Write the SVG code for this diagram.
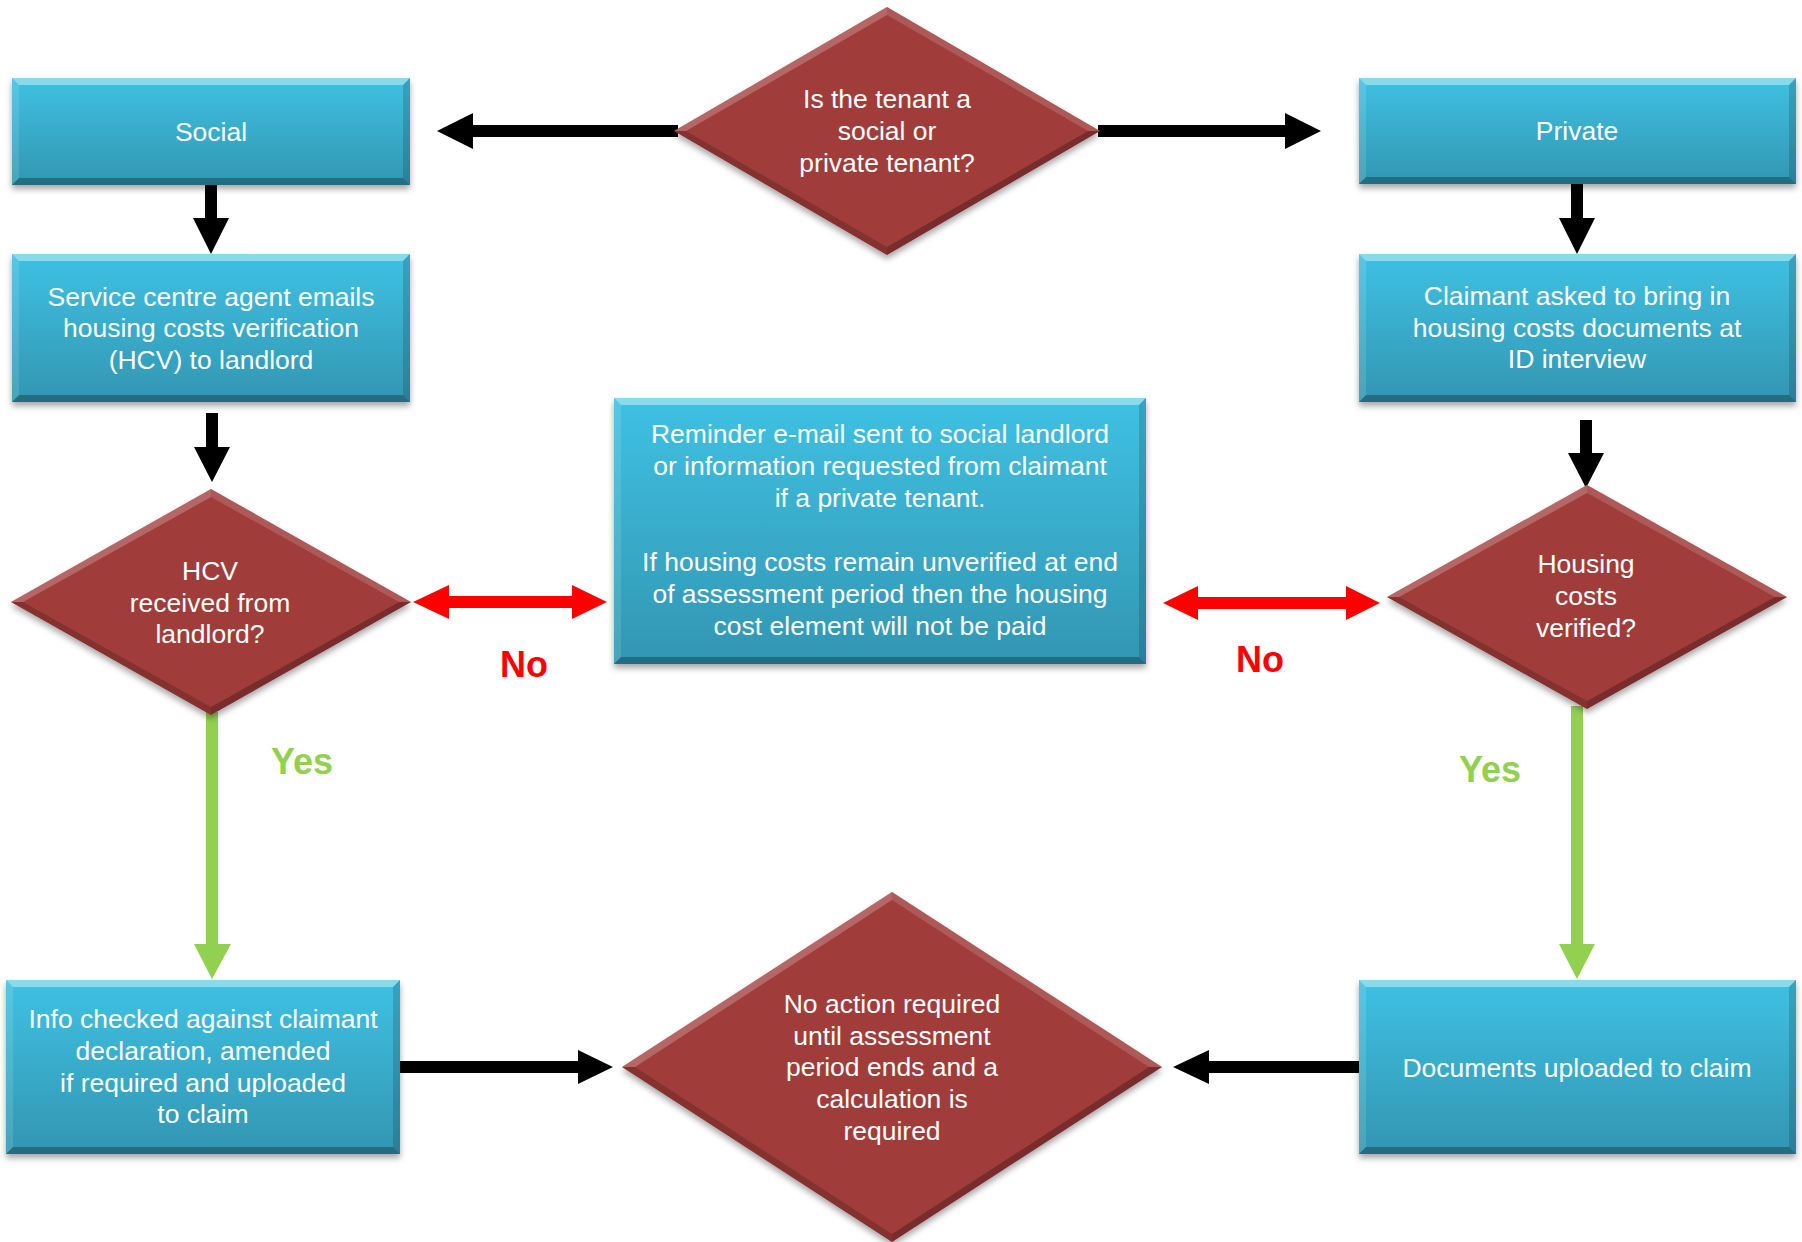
<svg xmlns="http://www.w3.org/2000/svg" width="1802" height="1242" viewBox="0 0 1802 1242">
<defs>
<linearGradient id="boxg" x1="0" y1="0" x2="0" y2="1">
<stop offset="0" stop-color="#3FC1E3"/>
<stop offset="1" stop-color="#3296B2"/>
</linearGradient>
<filter id="sh" x="-5%" y="-5%" width="110%" height="115%">
<feDropShadow dx="0" dy="4" stdDeviation="3" flood-color="#000" flood-opacity="0.35"/>
</filter>
<style>
.body{fill:url(#boxg)}
.bt{fill:#ffffff;fill-opacity:0.4}
.bl{fill:#ffffff;fill-opacity:0.12}
.br{fill:#000000;fill-opacity:0.15}
.bb{fill:#000000;fill-opacity:0.28}
.dia{fill:#A03C3A}
.dtl{fill:#ffffff;fill-opacity:0.22}
.dtr{fill:#ffffff;fill-opacity:0.15}
.dbr{fill:#000000;fill-opacity:0.25}
.dbl{fill:#000000;fill-opacity:0.18}
.t{font-family:"Liberation Sans",Arial,sans-serif;font-size:26.5px;fill:#ffffff;text-anchor:middle}
.blk{fill:#000000}
.red{fill:#FF0000}
.grn{fill:#92D050}
.no{font-family:"Liberation Sans",Arial,sans-serif;font-size:36px;font-weight:bold;fill:#FF0000;text-anchor:middle}
.yes{font-family:"Liberation Sans",Arial,sans-serif;font-size:36px;font-weight:bold;fill:#92D050;text-anchor:middle}
</style>
</defs>
<rect width="1802" height="1242" fill="#ffffff"/>

<g id="connectors">
<polygon class="blk" points="678,125 473,125 473,113 437,131 473,149 473,137 678,137"/>
<polygon class="blk" points="1098,125 1285,125 1285,113 1321,131 1285,149 1285,137 1098,137"/>
<polygon class="blk" points="205,185 217,185 217,218 229,218 211,254 193,218 205,218"/>
<polygon class="blk" points="1571,184 1583,184 1583,218 1595,218 1577,254 1559,218 1571,218"/>
<polygon class="blk" points="206,413 218,413 218,447 230,447 212,482 194,447 206,447"/>
<polygon class="blk" points="1580,420 1592,420 1592,453 1604,453 1586,488 1568,453 1580,453"/>
<polygon class="red" points="413,602 449,585 449,596 572,596 572,585 607,602 572,619 572,608 449,608 449,619"/>
<polygon class="red" points="1163,603 1198,586 1198,597 1346,597 1346,586 1380,603 1346,620 1346,609 1198,609 1198,620"/>
<polygon class="grn" points="206,712 218,712 218,944 231,944 212,979 194,944 206,944"/>
<polygon class="grn" points="1571,706 1583,706 1583,944 1595,944 1577,979 1559,944 1571,944"/>
<polygon class="blk" points="400,1061 578,1061 578,1050 613,1067 578,1084 578,1073 400,1073"/>
<polygon class="blk" points="1359,1061 1209,1061 1209,1050 1173,1067 1209,1084 1209,1073 1359,1073"/>
<text class="no" x="524" y="677">No</text>
<text class="no" x="1260" y="672">No</text>
<text class="yes" x="302" y="774">Yes</text>
<text class="yes" x="1490" y="782">Yes</text>
</g>

<g id="q-tenant">
<polygon class="dia" filter="url(#sh)" points="674,131 887,7 1100,131 887,255"/>
<polygon class="dtl" points="674,131 887,7 887,15 686,131"/>
<polygon class="dtr" points="887,7 1100,131 1088,131 887,15"/>
<polygon class="dbr" points="1100,131 887,255 887,247 1088,131"/>
<polygon class="dbl" points="887,255 674,131 686,131 887,247"/>
<text class="t" x="887" y="108">Is the tenant a</text>
<text class="t" x="887" y="140">social or</text>
<text class="t" x="887" y="172">private tenant?</text>
</g>

<g id="social">
<rect class="body" filter="url(#sh)" x="12" y="78" width="398" height="107"/>
<polygon class="bt" points="12,78 410,78 403,85 19,85"/>
<polygon class="bl" points="12,78 19,85 19,178 12,185"/>
<polygon class="br" points="410,78 410,185 403,178 403,85"/>
<polygon class="bb" points="12,185 19,178 403,178 410,185"/>
<text class="t" x="211" y="141">Social</text>
</g>

<g id="private">
<rect class="body" filter="url(#sh)" x="1359" y="78" width="437" height="106"/>
<polygon class="bt" points="1359,78 1796,78 1789,85 1366,85"/>
<polygon class="bl" points="1359,78 1366,85 1366,177 1359,184"/>
<polygon class="br" points="1796,78 1796,184 1789,177 1789,85"/>
<polygon class="bb" points="1359,184 1366,177 1789,177 1796,184"/>
<text class="t" x="1577" y="140">Private</text>
</g>

<g id="service-agent">
<rect class="body" filter="url(#sh)" x="12" y="254" width="398" height="148"/>
<polygon class="bt" points="12,254 410,254 403,261 19,261"/>
<polygon class="bl" points="12,254 19,261 19,395 12,402"/>
<polygon class="br" points="410,254 410,402 403,395 403,261"/>
<polygon class="bb" points="12,402 19,395 403,395 410,402"/>
<text class="t" x="211" y="306">Service centre agent emails</text>
<text class="t" x="211" y="337">housing costs verification</text>
<text class="t" x="211" y="369">(HCV) to landlord</text>
</g>

<g id="claimant-docs">
<rect class="body" filter="url(#sh)" x="1359" y="254" width="437" height="148"/>
<polygon class="bt" points="1359,254 1796,254 1789,261 1366,261"/>
<polygon class="bl" points="1359,254 1366,261 1366,395 1359,402"/>
<polygon class="br" points="1796,254 1796,402 1789,395 1789,261"/>
<polygon class="bb" points="1359,402 1366,395 1789,395 1796,402"/>
<text class="t" x="1577" y="305">Claimant asked to bring in</text>
<text class="t" x="1577" y="337">housing costs documents at</text>
<text class="t" x="1577" y="368">ID interview</text>
</g>

<g id="reminder">
<rect class="body" filter="url(#sh)" x="614" y="398" width="532" height="266"/>
<polygon class="bt" points="614,398 1146,398 1139,405 621,405"/>
<polygon class="bl" points="614,398 621,405 621,657 614,664"/>
<polygon class="br" points="1146,398 1146,664 1139,657 1139,405"/>
<polygon class="bb" points="614,664 621,657 1139,657 1146,664"/>
<text class="t" x="880" y="443">Reminder e-mail sent to social landlord</text>
<text class="t" x="880" y="475">or information requested from claimant</text>
<text class="t" x="880" y="507">if a private tenant.</text>
<text class="t" x="880" y="571">If housing costs remain unverified at end</text>
<text class="t" x="880" y="603">of assessment period then the housing</text>
<text class="t" x="880" y="635">cost element will not be paid</text>
</g>

<g id="q-hcv">
<polygon class="dia" filter="url(#sh)" points="11,602 211,489 411,602 211,715"/>
<polygon class="dtl" points="11,602 211,489 211,497 23,602"/>
<polygon class="dtr" points="211,489 411,602 399,602 211,497"/>
<polygon class="dbr" points="411,602 211,715 211,707 399,602"/>
<polygon class="dbl" points="211,715 11,602 23,602 211,707"/>
<text class="t" x="210" y="580">HCV</text>
<text class="t" x="210" y="612">received from</text>
<text class="t" x="210" y="643">landlord?</text>
</g>

<g id="q-verified">
<polygon class="dia" filter="url(#sh)" points="1387,597 1587,485 1787,597 1587,709"/>
<polygon class="dtl" points="1387,597 1587,485 1587,493 1399,597"/>
<polygon class="dtr" points="1587,485 1787,597 1775,597 1587,493"/>
<polygon class="dbr" points="1787,597 1587,709 1587,701 1775,597"/>
<polygon class="dbl" points="1587,709 1387,597 1399,597 1587,701"/>
<text class="t" x="1586" y="573">Housing</text>
<text class="t" x="1586" y="605">costs</text>
<text class="t" x="1586" y="637">verified?</text>
</g>

<g id="info-checked">
<rect class="body" filter="url(#sh)" x="6" y="980" width="394" height="174"/>
<polygon class="bt" points="6,980 400,980 393,987 13,987"/>
<polygon class="bl" points="6,980 13,987 13,1147 6,1154"/>
<polygon class="br" points="400,980 400,1154 393,1147 393,987"/>
<polygon class="bb" points="6,1154 13,1147 393,1147 400,1154"/>
<text class="t" x="203" y="1028">Info checked against claimant</text>
<text class="t" x="203" y="1060">declaration, amended</text>
<text class="t" x="203" y="1092">if required and uploaded</text>
<text class="t" x="203" y="1123">to claim</text>
</g>

<g id="documents-uploaded">
<rect class="body" filter="url(#sh)" x="1359" y="980" width="437" height="174"/>
<polygon class="bt" points="1359,980 1796,980 1789,987 1366,987"/>
<polygon class="bl" points="1359,980 1366,987 1366,1147 1359,1154"/>
<polygon class="br" points="1796,980 1796,1154 1789,1147 1789,987"/>
<polygon class="bb" points="1359,1154 1366,1147 1789,1147 1796,1154"/>
<text class="t" x="1577" y="1077">Documents uploaded to claim</text>
</g>

<g id="no-action">
<polygon class="dia" filter="url(#sh)" points="622,1067 892,892 1162,1067 892,1242"/>
<polygon class="dtl" points="622,1067 892,892 892,900 635,1067"/>
<polygon class="dtr" points="892,892 1162,1067 1149,1067 892,900"/>
<polygon class="dbr" points="1162,1067 892,1242 892,1234 1149,1067"/>
<polygon class="dbl" points="892,1242 622,1067 635,1067 892,1234"/>
<text class="t" x="892" y="1013">No action required</text>
<text class="t" x="892" y="1045">until assessment</text>
<text class="t" x="892" y="1076">period ends and a</text>
<text class="t" x="892" y="1108">calculation is</text>
<text class="t" x="892" y="1140">required</text>
</g>
</svg>
